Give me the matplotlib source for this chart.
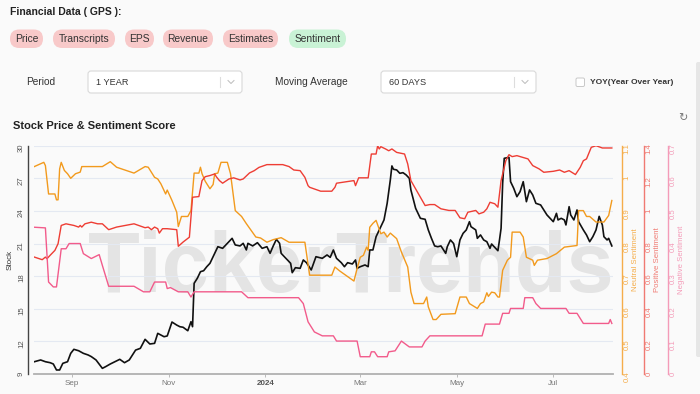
import numpy as np
import matplotlib
matplotlib.use("Agg")
import matplotlib.pyplot as plt
import matplotlib.dates as mdates
from matplotlib.patches import FancyBboxPatch
from matplotlib.ticker import FuncFormatter

plt.rcParams['font.family'] = ['Liberation Sans', 'DejaVu Sans']

# ---------------- data (day offsets from 2023-09-01) ----------------
BASE_DATE = np.datetime64('2023-09-01')

price_days = [-24, -20, -17, -14, -12, -10, -8, -6, -3, -1, 1, 4, 7, 10, 12, 15, 19, 21, 24, 27, 30, 33, 36, 40, 43,
              46, 49, 52, 54, 58, 60, 63, 66, 68, 70, 73, 75, 76, 77, 79, 81, 83, 85, 87, 89, 90, 92, 95, 99, 101,
              103, 106, 108, 110, 111, 114, 117, 120, 123, 125, 127, 129, 131, 132, 135, 138, 139, 141, 144, 146,
              148, 151, 154, 158, 161, 163, 165, 167, 170, 172, 174, 177, 179, 180, 182, 185, 187, 188, 190, 192,
              194, 197, 199, 201, 202, 203, 205, 207, 209, 211, 213, 214, 217, 220, 223, 225, 227, 229, 231, 233,
              236, 237, 239, 241, 243, 245, 247, 249, 251, 252, 255, 256, 258, 260, 262, 264, 265, 267, 269, 270,
              271, 272, 273, 276, 277, 279, 281, 283, 285, 287, 289, 291, 293, 296, 298, 300, 302, 304, 306, 307,
              309, 311, 312, 314, 315, 317, 319, 320, 323, 325, 327, 329, 331, 333, 335, 336, 338, 339, 341]
price_vals = [10.13, 10.29, 10.13, 10.04, 9.92, 9.37, 9.37, 9.98, 10.13, 10.9, 11.27, 11.14, 10.9, 10.75, 10.6,
              10.29, 9.52, 9.67, 9.92, 10.13, 10.35, 10.04, 10.29, 11.2, 11.36, 12.19, 11.76, 11.82, 12.74, 12.43,
              12.5, 13.78, 13.5, 13.35, 13.3, 12.98, 13.81, 13.35, 17.34, 17.8, 18.41, 18.5, 18.87, 19.18, 19.79,
              20.1, 20.71, 20.56, 21.17, 21.48, 20.87, 20.78, 21.02, 20.41, 21.02, 20.78, 21.08, 20.56, 20.71, 20.1,
              20.78, 21.39, 21.02, 20.1, 19.64, 19.18, 18.32, 18.78, 18.72, 19.49, 19.24, 18.57, 19.79, 19.64,
              19.95, 19.73, 20.41, 19.64, 19.24, 18.87, 19.24, 19.12, 19.49, 18.72, 18.87, 19.03, 18.87, 20.41,
              20.41, 21.63, 22.25, 23.17, 24.7, 26.85, 28.14, 27.83, 27.77, 27.46, 27.52, 27.31, 27.0, 25.93, 24.24,
              23.32, 23.23, 22.25, 21.48, 20.78, 20.71, 20.78, 20.1, 20.71, 21.33, 21.0, 19.79, 21.33, 21.94,
              22.25, 23.01, 22.55, 22.25, 21.48, 21.79, 21.33, 21.17, 20.56, 20.96, 20.65, 20.34, 21.33, 22.4,
              26.54, 28.84, 28.93, 26.69, 26.08, 25.31, 25.77, 26.69, 24.85, 25.93, 25.47, 24.7, 24.55, 24.09,
              23.63, 23.32, 23.01, 23.78, 23.17, 23.32, 23.17, 22.71, 24.39, 23.63, 23.17, 24.09, 23.01, 22.25,
              21.79, 21.17, 21.63, 22.25, 23.5, 22.71, 21.63, 21.33, 21.48, 20.78]

neutral_days = [-24, -18, -17, -15, -11, -10, -9, -8, -7, -5, -3, -1, 2, 5, 6, 19, 24, 28, 39, 46, 48, 52, 54, 56,
                59, 60, 63, 66, 67, 69, 73, 75, 77, 80, 81, 82, 84, 87, 89, 90, 92, 94, 98, 100, 103, 107, 110, 116,
                119, 123, 127, 132, 137, 147, 150, 164, 166, 169, 178, 180, 182, 184, 186, 187, 188, 190, 192, 195,
                197, 199, 201, 205, 208, 212, 214, 216, 222, 224, 225, 228, 230, 233, 242, 245, 249, 251, 256, 258,
                260, 262, 263, 265, 267, 269, 270, 272, 275, 277, 278, 283, 285, 287, 291, 292, 294, 300, 306, 311,
                319, 320, 323, 325, 327, 331, 336, 339, 341]
neutral_vals = [1.036, 1.049, 1.039, 0.952, 0.952, 0.934, 0.934, 1.029, 1.049, 1.024, 1.014, 1.0, 1.014, 1.019,
                1.036, 1.036, 1.051, 1.034, 1.016, 1.036, 1.034, 1.003, 0.998, 0.983, 0.952, 0.964, 0.932, 0.896,
                0.852, 0.883, 0.883, 0.901, 1.016, 1.016, 1.034, 1.014, 0.991, 0.968, 0.981, 1.014, 1.016, 1.049,
                1.049, 1.014, 0.901, 0.883, 0.861, 0.820, 0.817, 0.804, 0.812, 0.818, 0.804, 0.804, 0.703, 0.703,
                0.728, 0.716, 0.685, 0.723, 0.758, 0.764, 0.789, 0.779, 0.850, 0.862, 0.871, 0.830, 0.835, 0.820,
                0.832, 0.815, 0.774, 0.728, 0.651, 0.616, 0.616, 0.636, 0.606, 0.567, 0.567, 0.583, 0.585, 0.636,
                0.636, 0.616, 0.601, 0.616, 0.621, 0.649, 0.638, 0.651, 0.649, 0.636, 0.636, 0.718, 0.749, 0.758,
                0.835, 0.835, 0.820, 0.758, 0.749, 0.733, 0.749, 0.754, 0.769, 0.789, 0.794, 0.901, 0.901, 0.883,
                0.883, 0.866, 0.866, 0.886, 0.932]

positive_days = [-24, -19, -17, -16, -14, -11, -9, -7, -4, 1, 4, 5, 6, 8, 12, 16, 19, 23, 28, 39, 46, 48, 50, 52,
                 54, 55, 57, 60, 66, 67, 70, 74, 76, 80, 82, 84, 87, 90, 91, 93, 95, 99, 102, 106, 108, 112, 115,
                 118, 123, 133, 137, 140, 144, 147, 149, 150, 157, 164, 166, 167, 178, 179, 181, 187, 189, 192, 193,
                 194, 195, 198, 200, 202, 205, 210, 212, 214, 217, 220, 223, 226, 229, 233, 238, 242, 245, 248, 250,
                 255, 257, 260, 262, 264, 267, 269, 271, 274, 276, 278, 281, 288, 291, 295, 298, 304, 308, 311, 314,
                 318, 321, 323, 325, 328, 331, 335, 341]
positive_vals = [0.717, 0.701, 0.717, 0.707, 0.728, 0.758, 0.799, 0.911, 0.921, 0.911, 0.901, 0.911, 0.901, 0.921,
                 0.931, 0.921, 0.921, 0.885, 0.901, 0.921, 0.897, 0.901, 0.885, 0.901, 0.891, 0.864, 0.891, 0.891,
                 0.885, 0.783, 0.809, 0.839, 1.084, 1.088, 1.186, 1.210, 1.217, 1.227, 1.210, 1.186, 1.170, 1.196,
                 1.203, 1.190, 1.196, 1.233, 1.247, 1.267, 1.284, 1.284, 1.272, 1.251, 1.247, 1.206, 1.155, 1.145,
                 1.121, 1.121, 1.145, 1.170, 1.186, 1.155, 1.203, 1.203, 1.349, 1.349, 1.400, 1.380, 1.394, 1.380,
                 1.369, 1.380, 1.359, 1.349, 1.288, 1.186, 1.135, 1.084, 1.033, 1.039, 1.039, 1.013, 1.003, 1.003,
                 0.958, 0.952, 0.992, 1.003, 0.982, 0.992, 1.013, 1.053, 1.044, 1.023, 1.186, 1.308, 1.345, 1.333,
                 1.339, 1.319, 1.278, 1.258, 1.237, 1.243, 1.251, 1.237, 1.247, 1.223, 1.267, 1.308, 1.319, 1.390,
                 1.400, 1.386, 1.386]

negative_days = [-24, -17, -15, -12, -10, -7, -4, -2, 5, 7, 12, 17, 19, 23, 39, 45, 49, 52, 59, 60, 62, 67, 73, 75,
                 77, 107, 111, 143, 146, 149, 153, 158, 165, 167, 180, 182, 188, 189, 191, 193, 199, 200, 204, 208,
                 213, 221, 223, 226, 259, 261, 270, 272, 276, 277, 285, 286, 291, 293, 296, 312, 314, 319, 323, 339,
                 340, 341]
negative_vals = [0.450, 0.448, 0.282, 0.267, 0.267, 0.384, 0.384, 0.400, 0.400, 0.369, 0.354, 0.366, 0.333, 0.269,
                 0.269, 0.252, 0.252, 0.282, 0.282, 0.262, 0.265, 0.252, 0.252, 0.236, 0.252, 0.252, 0.234, 0.234,
                 0.216, 0.160, 0.129, 0.117, 0.117, 0.101, 0.101, 0.053, 0.053, 0.068, 0.068, 0.053, 0.053, 0.068,
                 0.071, 0.101, 0.083, 0.083, 0.101, 0.117, 0.117, 0.153, 0.153, 0.186, 0.186, 0.201, 0.201, 0.234,
                 0.234, 0.216, 0.201, 0.201, 0.186, 0.186, 0.155, 0.155, 0.167, 0.155]

month_ticks = ['2023-09-01', '2023-11-01', '2024-01-01', '2024-03-01', '2024-05-01', '2024-07-01']
month_labels = ['Sep', 'Nov', '2024', 'Mar', 'May', 'Jul']
stock_ticks = [9, 12, 15, 18, 21, 24, 27, 30]
neutral_ticks = [0.4, 0.5, 0.6, 0.7, 0.8, 0.9, 1.0, 1.1]
positive_ticks = [0, 0.2, 0.4, 0.6, 0.8, 1.0, 1.2, 1.4]
negative_ticks = [0, 0.1, 0.2, 0.3, 0.4, 0.5, 0.6, 0.7]

pill_labels = ['Price', 'Transcripts', 'EPS', 'Revenue', 'Estimates', 'Sentiment']


def to_dates(days):
    return (BASE_DATE + np.array(days, dtype='timedelta64[D]')).astype('datetime64[D]')


W, H = 700, 394
BG = '#fafafa'
fig = plt.figure(figsize=(W / 100, H / 100), dpi=100, facecolor=BG)

# ---------- background / UI layer in pixel coordinates ----------
ui = fig.add_axes([0, 0, 1, 1])
ui.set_xlim(0, W)
ui.set_ylim(H, 0)
ui.axis('off')
ui.set_zorder(0)

ui.text(10, 12, 'Financial Data ( GPS ):', fontsize=7.5, fontweight='bold', color='#222', va='center', ha='left')

pill_x = [(10, 43), (53, 115), (125, 154), (163, 213), (223, 278), (289, 346)]
for (x0, x1), lab in zip(pill_x, pill_labels):
    col = '#c9f2d5' if lab == 'Sentiment' else '#f8c9c9'
    ui.add_patch(FancyBboxPatch((x0, 29.5), (x1 - x0), 18.5,
                                boxstyle='round,pad=0,rounding_size=9.2',
                                fc=col, ec='none'))
    ui.text((x0 + x1) / 2, 39, lab, fontsize=7.4, color='#333', ha='center', va='center')

ui.text(26, 82, 'Period', fontsize=7.3, color='#333', va='center')
ui.text(275, 82, 'Moving Average', fontsize=7.3, color='#333', va='center')

for (x0, x1, txt) in [(88, 242, '1 YEAR'), (381, 536, '60 DAYS')]:
    ui.add_patch(FancyBboxPatch((x0, 71), x1 - x0, 22, boxstyle='round,pad=0,rounding_size=3',
                                fc='white', ec='#d9d9d9', lw=0.8))
    ui.text(x0 + 8, 82, txt, fontsize=6.6, color='#333', va='center')
    ui.plot([x1 - 22, x1 - 22], [77, 87], color='#dddddd', lw=0.8)
    ui.plot([x1 - 14, x1 - 11, x1 - 8], [80.5, 83.5, 80.5], color='#bbbbbb', lw=0.7)

ui.add_patch(FancyBboxPatch((576, 78), 8.5, 8.5, boxstyle='round,pad=0,rounding_size=1.5',
                            fc='white', ec='#c8c8c8', lw=0.7))
ui.text(590, 82, 'YOY(Year Over Year)', fontsize=6.0, fontweight='semibold', color='#333', va='center')

ui.add_patch(FancyBboxPatch((696, 62), 6, 295, boxstyle='round,pad=0,rounding_size=2',
                            fc='#e6e6e6', ec='none'))

ui.text(13, 126, 'Stock Price & Sentiment Score', fontsize=8, fontweight='bold', color='#222', va='center')
ui.text(683, 118, '\u21bb', fontsize=8, color='#777', va='center', ha='center', family='DejaVu Sans')

# watermark
ui.text(351, 292, 'TickerTrends', fontsize=61, fontweight='bold', color='#e4e4e4',
        ha='center', va='baseline', family='Liberation Sans')

# ---------- main chart ----------
L, R, T, B = 34, 613, 145.7, 374
ax = fig.add_axes([L / W, 1 - B / H, (R - L) / W, (B - T) / H])
ax.set_facecolor('none')
ax.set_zorder(2)

x0 = mdates.date2num(BASE_DATE) + (L - 72.3) / 1.5822
x1 = mdates.date2num(BASE_DATE) + (R - 72.3) / 1.5822

ax.set_xlim(x0, x1)
ax.set_ylim(9, 30)
ax.set_yticks(stock_ticks)
ax.yaxis.set_major_formatter(FuncFormatter(lambda v, p: f'{v:g}'))
ax.grid(axis='y', color='#e4e9f2', lw=0.8)
ax.set_axisbelow(True)
for s in ['top', 'right']:
    ax.spines[s].set_visible(False)
ax.spines['left'].set_position(('outward', 4.5))
ax.spines['left'].set_color('#444')
ax.spines['left'].set_linewidth(1.0)
ax.spines['bottom'].set_color('#b0b0b0')
ax.spines['bottom'].set_linewidth(1.3)
ax.tick_params(axis='y', length=0, labelsize=5.6, labelcolor='#555', pad=2, labelrotation=90)
ax.set_ylabel('Stock', fontsize=5.8, color='#333', labelpad=3)

ax.set_xticks(mdates.date2num(np.array(month_ticks, dtype='datetime64[D]')))
ax.set_xticklabels(month_labels)
ax.tick_params(axis='x', length=2.5, width=0.6, color='#b0b0b0', labelsize=5.8, labelcolor='#777', pad=2)
ax.get_xticklabels()[2].set_fontweight('bold')
ax.get_xticklabels()[2].set_color('#555')

ax.plot(to_dates(price_days), price_vals, color='#111111', lw=1.2, zorder=5)

# right axes
specs = [
    (neutral_days, neutral_vals, (0.4, 1.1), neutral_ticks, 9, '#f29a1d', '#f5ad4a', 'Neutral Sentiment'),
    (positive_days, positive_vals, (0, 1.4), positive_ticks, 31, '#ee3d34', '#f07a72', 'Positive Sentiment'),
    (negative_days, negative_vals, (0, 0.7), negative_ticks, 55, '#f25b8b', '#f49bb8', 'Negative Sentiment'),
]
for days, vals, lim, ticks, off, lc, tc, lab in specs:
    tx = ax.twinx()
    tx.set_xlim(x0, x1)
    tx.set_ylim(*lim)
    tx.set_yticks(ticks)
    tx.yaxis.set_major_formatter(FuncFormatter(lambda v, p: f'{v:g}'))
    for s in ['top', 'left', 'bottom']:
        tx.spines[s].set_visible(False)
    tx.spines['right'].set_position(('outward', off * 0.72))
    tx.spines['right'].set_color(tc)
    tx.spines['right'].set_linewidth(1.0)
    tx.tick_params(axis='y', length=0, labelsize=5.6, labelcolor=tc, pad=1, labelrotation=90)
    tx.set_ylabel(lab, fontsize=5.6, color=tc, labelpad=1.5, rotation=90)
    tx.plot(to_dates(days), vals, color=lc, lw=1.0)

fig.savefig('out.png', dpi=100, facecolor=BG)
